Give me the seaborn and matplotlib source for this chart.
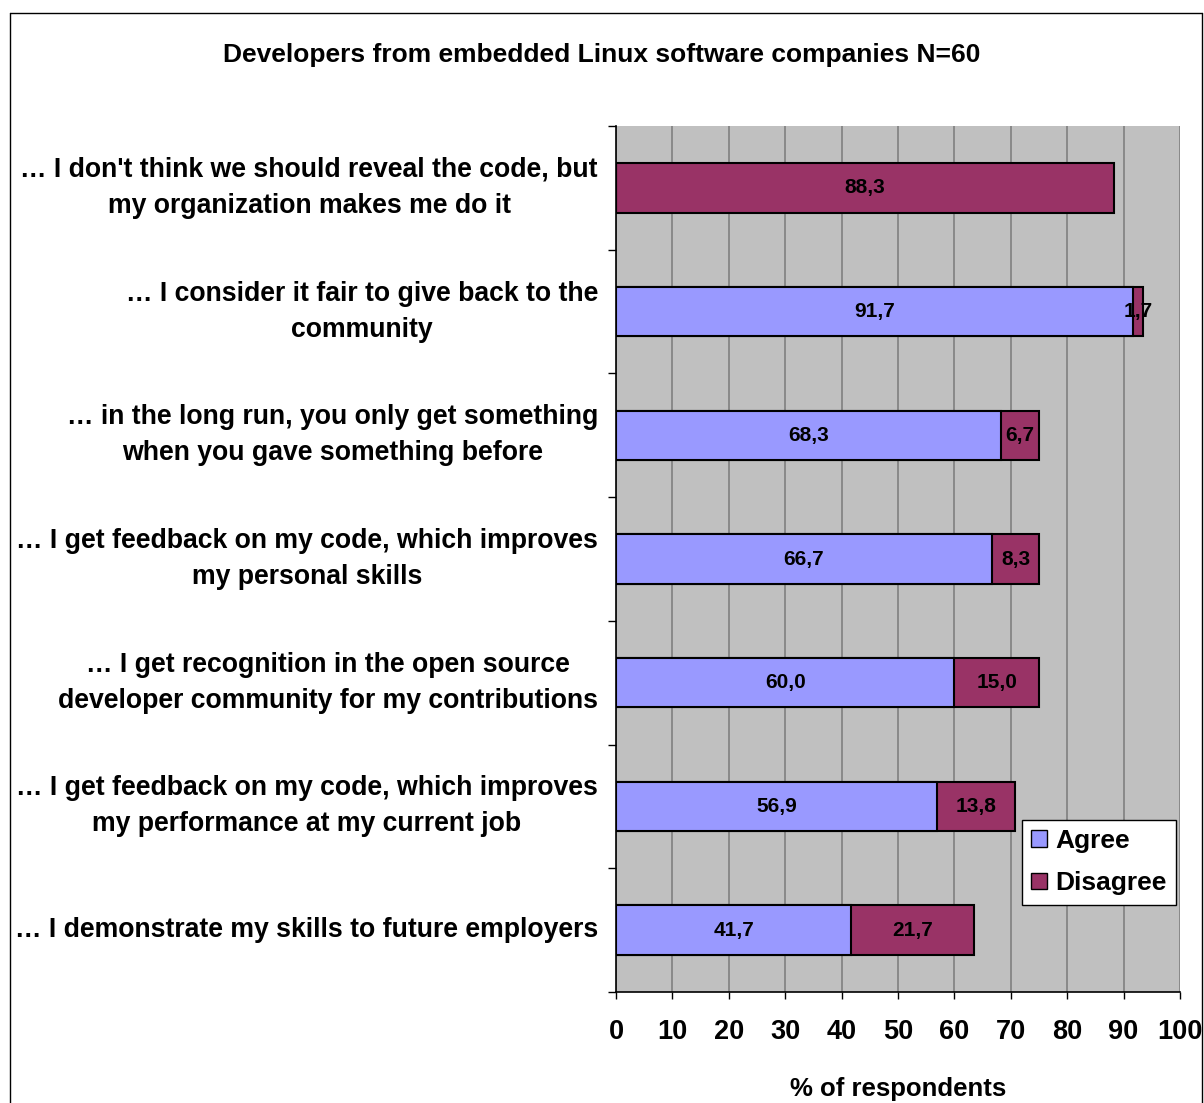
import pandas as pd
import matplotlib.pyplot as plt
import seaborn as sns
from matplotlib.lines import Line2D
from matplotlib.patches import Patch
from matplotlib.ticker import MultipleLocator, FixedLocator

statements = [
    "… I don't think we should reveal the code, but\nmy organization makes me do it",
    "… I consider it fair to give back to the\ncommunity",
    "… in the long run, you only get something\nwhen you gave something before",
    "… I get feedback on my code, which improves\nmy personal skills",
    "… I get recognition in the open source\ndeveloper community for my contributions",
    "… I get feedback on my code, which improves\nmy performance at my current job",
    "… I demonstrate my skills to future employers",
]
agree = [0, 91.7, 68.3, 66.7, 60.0, 56.9, 41.7]
disagree = [88.3, 1.7, 6.7, 8.3, 15.0, 13.8, 21.7]

agree_color = "#9999FF"
disagree_color = "#993366"

df = pd.DataFrame({"statement": statements, "Agree": agree, "Disagree": disagree})
df["total"] = df["Agree"] + df["Disagree"]

sns.set_style("white")
plt.rcParams["font.family"] = ["Liberation Sans", "DejaVu Sans"]
plt.rcParams["font.weight"] = "bold"
plt.rcParams["text.color"] = "black"
plt.rcParams["xtick.color"] = "black"
plt.rcParams["ytick.color"] = "black"
plt.rcParams["axes.labelcolor"] = "black"

fig = plt.figure(figsize=(12.04, 11.03), dpi=100)
ax = fig.add_axes([0.5116, 0.1006, 0.4684, 0.7852])
ax.set_facecolor("#C0C0C0")

# stacked: total drawn in disagree colour, agree on top
sns.barplot(data=df, y="statement", x="total", color=disagree_color, saturation=1,
            edgecolor="black", linewidth=1.5, width=0.4, errorbar=None, ax=ax)
sns.barplot(data=df, y="statement", x="Agree", color=agree_color, saturation=1,
            edgecolor="black", linewidth=1.5, width=0.4, errorbar=None, ax=ax)

fmt = lambda v: f"{v:.1f}".replace(".", ",")
for i, (a, d) in enumerate(zip(agree, disagree)):
    if a > 0:
        ax.text(a / 2, i, fmt(a), ha="center", va="center", fontsize=15, fontweight="bold")
    ax.text(a + d / 2, i, fmt(d), ha="center", va="center", fontsize=15, fontweight="bold")

ax.set_xlim(0, 100)
ax.set_ylim(len(statements) - 0.5, -0.5)
ax.xaxis.set_major_locator(MultipleLocator(10))
ax.grid(axis="x", color="#7a7a7a", linewidth=1.1)
ax.grid(axis="y", visible=False)
ax.set_axisbelow(True)

for s in ["top", "right"]:
    ax.spines[s].set_visible(False)
for s in ["left", "bottom"]:
    ax.spines[s].set_color("black")
    ax.spines[s].set_linewidth(1.2)

ax.yaxis.set_minor_locator(FixedLocator([i - 0.5 for i in range(len(statements) + 1)]))
ax.tick_params(axis="y", which="major", length=0, pad=13, labelsize=19.2)
ax.tick_params(axis="y", which="minor", length=6, width=1, color="black", left=True)
ax.tick_params(axis="x", length=5, width=1, color="black", bottom=True, pad=14.5, labelsize=19.5)
for lbl in ax.get_yticklabels():
    lbl.set_multialignment("center")
    lbl.set_fontweight("bold")
    lbl.set_linespacing(1.5)
    lbl.set_verticalalignment("center")
for lbl in ax.get_xticklabels():
    lbl.set_fontweight("bold")

ax.set_ylabel("")
ax.set_xlabel("% of respondents", fontsize=18.5, fontweight="bold", labelpad=23)

fig.text(0.5, 0.95, "Developers from embedded Linux software companies N=60",
         ha="center", va="center", fontsize=19, fontweight="bold")

handles = [Patch(facecolor=agree_color, edgecolor="black", label="Agree"),
           Patch(facecolor=disagree_color, edgecolor="black", label="Disagree")]
leg = ax.legend(handles=handles, loc="upper left", bbox_to_anchor=(0.72, 0.199),
                fontsize=19, frameon=True, fancybox=False, edgecolor="black",
                framealpha=1, handlelength=0.6, handleheight=0.6, handletextpad=0.3,
                borderpad=0.35, labelspacing=0.7, borderaxespad=0)
leg.get_frame().set_linewidth(1)

# outer chart border
for xs, ys in [([0.008, 0.008], [0.0, 0.988]), ([0.008, 0.998], [0.988, 0.988]),
               ([0.998, 0.998], [0.0, 0.988])]:
    fig.add_artist(Line2D(xs, ys, transform=fig.transFigure, color="black", linewidth=1))

fig.savefig("out.png", dpi=100)
